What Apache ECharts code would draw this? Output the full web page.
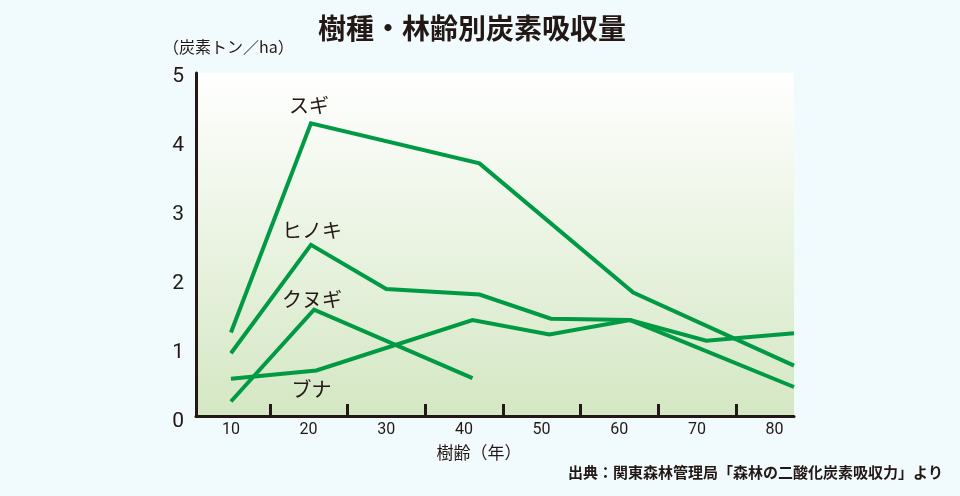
<!DOCTYPE html>
<html>
<head>
<meta charset="utf-8">
<script src="https://cdn.jsdelivr.net/npm/echarts@6/dist/echarts.min.js"></script>
<style>
html,body{margin:0;padding:0;background:#f1fbfd;}
#chart{width:960px;height:496px;}
</style>
</head>
<body>
<div id="chart"></div>
<script>
// ---- data ----
const TITLE = '樹種・林齢別炭素吸収量';
const Y_UNIT = '（炭素トン／ha）';
const X_NAME = '樹齢（年）';
const SOURCE = '出典：関東森林管理局「森林の二酸化炭素吸収力」より';

const X_LABELS = [10, 20, 30, 40, 50, 60, 70, 80];
const X_TICKS = [15, 25, 35, 45, 55, 65, 75];
const Y_LABELS = [0, 1, 2, 3, 4, 5];

const SUGI_AGE = [10, 20.3, 42, 61.8, 82.5];
const SUGI = [1.29, 4.32, 3.74, 1.87, 0.81];

const HINOKI_AGE = [10, 20.3, 30, 42, 51.2, 61.4, 82.5];
const HINOKI = [0.99, 2.56, 1.92, 1.84, 1.49, 1.47, 0.50];

const KUNUGI_AGE = [10, 20.7, 41.1];
const KUNUGI = [0.29, 1.62, 0.63];

const BUNA_AGE = [10, 21, 41.1, 51, 61.4, 71.2, 82.5];
const BUNA = [0.62, 0.74, 1.47, 1.26, 1.47, 1.17, 1.28];

const SERIES_NAMES = ['スギ', 'ヒノキ', 'クヌギ', 'ブナ'];

// ---- chart ----
const INK = '#231815';
const GREEN = '#009944';
const JP = "'Noto Sans CJK JP', sans-serif";
const NUM = "Roboto, 'Noto Sans', sans-serif";

const labelStyles = {
  'スギ':   { position: 'top', distance: 8, offset: [-2, 0] },
  'ヒノキ': { position: 'top', distance: 4, offset: [1, 0] },
  'クヌギ': { position: 'top', distance: 0, offset: [-2, 0] },
  'ブナ':   { position: 'bottom', distance: 9, offset: [-5, 0] }
};

function build(name, ages, vals, labelIdx) {
  const data = ages.map((a, i) => {
    const item = { value: [a, vals[i]] };
    if (i === labelIdx) {
      item.label = Object.assign({
        show: true,
        formatter: name,
        color: INK,
        fontSize: 20,
        fontFamily: JP
      }, labelStyles[name]);
    }
    return item;
  });
  return {
    name: name,
    type: 'line',
    xAxisIndex: 0,
    yAxisIndex: 0,
    data: data,
    symbol: 'circle',
    symbolSize: 0,
    showSymbol: true,
    silent: true,
    animation: false,
    lineStyle: { color: GREEN, width: 4, join: 'miter' },
    itemStyle: { color: GREEN }
  };
}

const chart = echarts.init(document.getElementById('chart'), null, { renderer: 'canvas' });

const option = {
  backgroundColor: '#f1fbfd',
  animation: false,
  title: {
    text: TITLE,
    left: 313,
    top: 9,
    textStyle: { color: INK, fontSize: 28, fontWeight: 'bold', fontFamily: JP }
  },
  grid: [
    {
      left: 196, right: 166, top: 73, bottom: 80,
      show: true, borderWidth: 0,
      backgroundColor: {
        type: 'linear', x: 0, y: 0, x2: 0, y2: 1,
        colorStops: [
          { offset: 0, color: '#ffffff' },
          { offset: 1, color: '#d4e7c3' }
        ]
      }
    },
    { left: 196, right: 166, top: 76.5, bottom: 74.5, show: false }
  ],
  xAxis: [
    {
      type: 'value', gridIndex: 0, min: 5.5, max: 82.5,
      axisLine: { show: true, onZero: false, lineStyle: { color: INK, width: 3 } },
      axisTick: { show: true, inside: true, length: 12, customValues: X_TICKS,
                  lineStyle: { color: INK, width: 3 } },
      axisLabel: { customValues: X_LABELS, color: INK, fontSize: 16, margin: 6, fontFamily: NUM },
      splitLine: { show: false },
      name: X_NAME, nameLocation: 'middle', nameGap: 28,
      nameTextStyle: { color: INK, fontSize: 17, fontFamily: JP, padding: [0, 32, 0, 0] }
    },
    { type: 'value', gridIndex: 1, min: 0, max: 1, show: false }
  ],
  yAxis: [
    {
      type: 'value', gridIndex: 0, min: 0.08, max: 5.05,
      axisLine: { show: true, lineStyle: { color: INK, width: 3 } },
      axisTick: { show: false },
      axisLabel: { show: false },
      splitLine: { show: false }
    },
    {
      type: 'value', gridIndex: 1, min: 0, max: 5, interval: 1,
      axisLine: { show: false },
      axisTick: { show: false },
      splitLine: { show: false },
      axisLabel: { customValues: Y_LABELS, color: INK, fontSize: 21, margin: 12, fontFamily: NUM }
    }
  ],
  graphic: [
    {
      type: 'text', x: 163, y: 46.5, silent: true,
      style: { text: Y_UNIT, fill: INK, fontSize: 16, fontFamily: JP,
               textAlign: 'left', textVerticalAlign: 'middle' }
    },
    {
      type: 'text', x: 943, y: 472, silent: true,
      style: { text: SOURCE, fill: INK, fontSize: 15, fontWeight: 'bold', fontFamily: JP,
               textAlign: 'right', textVerticalAlign: 'middle' }
    }
  ],
  series: [
    build(SERIES_NAMES[0], SUGI_AGE, SUGI, 1),
    build(SERIES_NAMES[1], HINOKI_AGE, HINOKI, 1),
    build(SERIES_NAMES[2], KUNUGI_AGE, KUNUGI, 1),
    build(SERIES_NAMES[3], BUNA_AGE, BUNA, 1)
  ]
};

chart.setOption(option);
</script>
</body>
</html>
